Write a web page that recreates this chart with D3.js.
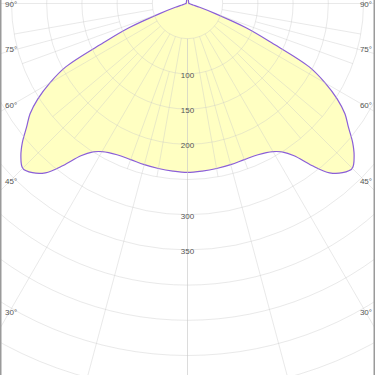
<!DOCTYPE html>
<html>
<head>
<meta charset="utf-8">
<script src="https://cdn.jsdelivr.net/npm/d3@7"></script>
<style>
  body { margin: 0; background: #fff; }
  svg { display: block; }
  text { font-family: "Liberation Sans", Arial, sans-serif; font-size: 8px; fill: #555; }
</style>
</head>
<body>
<svg id="chart" width="375" height="375"></svg>
<script>
// luminous intensity (cd) per gamma angle, one half of a symmetric plane
const gammaAngles = [0, 5, 10, 15, 20, 25, 30, 32.5, 35, 37.5, 40, 42.5, 45, 47.5, 50, 52.5, 55, 57.5, 60, 62.5, 65, 67.5, 70, 72.5, 75, 80, 85, 90, 120, 150, 170, 180];
const intensity = [240, 239, 238, 237, 236, 237, 243, 250, 264, 290, 314, 326, 331, 321, 306, 288, 273, 252, 226, 195, 132, 90, 42, 18, 8, 4, 3, 2, 2, 3, 6, 9];

// grid
const circleValues = [50, 100, 150, 200, 250, 300, 350, 400, 450, 500, 550];
const radialLabels = [100, 150, 200, 300, 350];
const angleLabels = [90, 75, 60, 45, 30];
const spokesFine = [10, 20, 40, 50, 70, 80];   // inner ring only
const spokesMain = [0, 30, 60, 90];
const spokesMid = [15, 45, 75];

const width = 375, height = 375;
const cx = 187.5, cy = 3.5;

const svg = d3.select('#chart');
const r = d3.scaleLinear().domain([0, 500]).range([0, 352]);

const toRad = d => d * Math.PI / 180;
// gamma measured from straight down; side -1 = left, 1 = right
const pt = (g, v, side) => [cx + side * r(v) * Math.sin(toRad(g)), cy + r(v) * Math.cos(toRad(g))];

const root = svg.append('g');

// closed distribution curve: right half down->up, then left half up->down
const pts = [];
gammaAngles.forEach((g, i) => pts.push({ a: Math.PI - toRad(g), v: intensity[i] }));
for (let i = gammaAngles.length - 2; i > 0; i--) {
    pts.push({ a: Math.PI + toRad(gammaAngles[i]), v: intensity[i] });
}

const line = d3.lineRadial()
    .angle(d => d.a)
    .radius(d => r(d.v))
    .curve(d3.curveCatmullRomClosed.alpha(0.5));

const plot = root.append('g').attr('transform', `translate(${cx},${cy})`);
plot.append('path')
    .attr('d', line(pts))
    .attr('fill', '#ffffc2')
    .attr('stroke', 'none');

// grid circles
const grid = root.append('g').attr('stroke', '#c8c8c8').attr('stroke-opacity', 0.4).attr('fill', 'none');
circleValues.forEach(v => {
    grid.append('circle').attr('cx', cx).attr('cy', cy).attr('r', r(v));
});

function spoke(g, v0, v1) {
    [-1, 1].forEach(side => {
        const a = pt(g, v0, side);
        const b = pt(g, v1, side);
        grid.append('line').attr('x1', a[0]).attr('y1', a[1]).attr('x2', b[0]).attr('y2', b[1]);
    });
}
spokesFine.forEach(g => spoke(g, 50, 250));
spokesMain.forEach(g => spoke(g, 50, 900));
spokesMid.forEach(g => spoke(g, 100, 900));

// curve outline on top of the grid
plot.append('path')
    .attr('d', line(pts))
    .attr('fill', 'none')
    .attr('stroke', '#8b5fd8')
    .attr('stroke-width', 1.2);

// radial value labels
root.selectAll('.rlabel')
    .data(radialLabels)
    .enter()
    .append('text')
    .attr('class', 'rlabel')
    .attr('x', cx)
    .attr('y', d => cy + r(d) + 2)
    .attr('text-anchor', 'middle')
    .attr('dominant-baseline', 'middle')
    .text(d => d);

// angle labels on both edges
angleLabels.forEach(a => {
    const y = a === 90 ? 5 : Math.max(5, cy + (cx - 8) / Math.tan(toRad(a)) - 1.5);
    root.append('text')
        .attr('x', 5).attr('y', y)
        .attr('dominant-baseline', 'middle')
        .text(a + '°');
    root.append('text')
        .attr('x', width - 3).attr('y', y)
        .attr('text-anchor', 'end')
        .attr('dominant-baseline', 'middle')
        .text(a + '°');
});

// frame edges
root.append('line').attr('x1', 0.75).attr('y1', 0).attr('x2', 0.75).attr('y2', height)
    .attr('stroke', '#9a9a9a').attr('stroke-width', 1.5);
root.append('line').attr('x1', width - 0.75).attr('y1', 0).attr('x2', width - 0.75).attr('y2', height)
    .attr('stroke', '#9a9a9a').attr('stroke-width', 1.5);
</script>
</body>
</html>
